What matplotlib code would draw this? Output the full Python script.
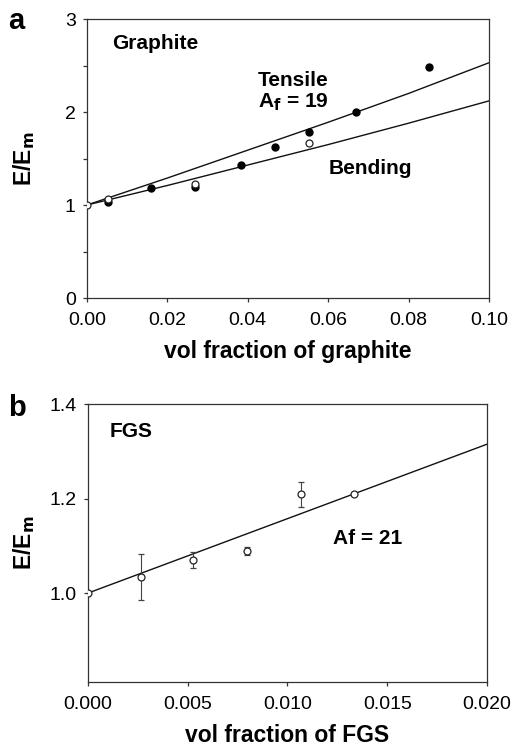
import matplotlib
matplotlib.use("Agg")
import matplotlib.pyplot as plt
from matplotlib.ticker import FixedLocator, FuncFormatter

plt.rcParams['font.family'] = ['Liberation Sans', 'DejaVu Sans']

# graphite: tensile (filled) and bending (open) moduli
tens_x = [0.0052, 0.016, 0.027, 0.0383, 0.0468, 0.0552, 0.0669, 0.0851]
tens_y = [1.035, 1.18, 1.195, 1.43, 1.62, 1.785, 2.0, 2.48]
bend_x = [0.0, 0.0052, 0.027, 0.0552]
bend_y = [1.0, 1.06, 1.225, 1.665]

# fitted curves read at fixed fractions
fit_x = [0.0, 0.02, 0.04, 0.06, 0.08, 0.10]
tens_fit = [1.0, 1.29, 1.59, 1.89, 2.20, 2.53]
bend_fit = [1.0, 1.21, 1.43, 1.65, 1.88, 2.12]

# FGS with error bars
fgs_x = [0.0, 0.00266, 0.00527, 0.00797, 0.01068, 0.01333]
fgs_y = [1.0, 1.034, 1.070, 1.089, 1.209, 1.209]
fgs_err = [0.0, 0.048, 0.016, 0.009, 0.027, 0.0]
fgs_fit_x = [0.0, 0.02]
fgs_fit_y = [1.0, 1.315]

a_xticks = [0.0, 0.02, 0.04, 0.06, 0.08, 0.10]
b_xticks = [0.0, 0.005, 0.010, 0.015, 0.020]

edge = '#333333'
tick_fs = 14
note_fs = 15
label_fs = 16.5

fig = plt.figure(figsize=(5.11, 7.46), dpi=100)
ax1 = fig.add_axes([0.170, 0.6005, 0.787, 0.374])
ax2 = fig.add_axes([0.172, 0.0858, 0.781, 0.3726])


def style(ax):
    for s in ax.spines.values():
        s.set_color(edge)
        s.set_linewidth(0.9)
    ax.tick_params(direction='out', length=3, width=0.9, color=edge,
                   labelsize=tick_fs)
    ax.tick_params(axis='x', pad=7)
    ax.tick_params(axis='y', pad=5)


# panel a
ax1.plot(fit_x, tens_fit, color='#111111', lw=1.0)
ax1.plot(fit_x, bend_fit, color='#111111', lw=1.0)
ax1.plot(tens_x, tens_y, 'o', ms=5, color='black', zorder=3)
ax1.plot(bend_x, bend_y, 'o', ms=5, mfc='white', mec='#222222', mew=0.9,
         zorder=4)
ax1.set_xlim(0, 0.1)
ax1.set_ylim(0, 3)
ax1.xaxis.set_major_locator(FixedLocator(a_xticks))
ax1.xaxis.set_major_formatter(FuncFormatter(lambda v, p: f'{v:.2f}'))
ax1.yaxis.set_major_locator(FixedLocator([0, 0.5, 1, 1.5, 2, 2.5, 3]))
ax1.yaxis.set_major_formatter(
    FuncFormatter(lambda v, p: f'{v:.0f}' if v == int(v) else ''))
style(ax1)
ax1.set_xlabel('vol fraction of graphite', fontsize=label_fs,
               fontweight='bold')
ax1.xaxis.set_label_coords(0.5, -0.152)
ax1.set_ylabel('E/E$_\\mathbf{m}$', fontsize=label_fs, fontweight='bold')
ax1.yaxis.set_label_coords(-0.125, 0.5)
ax1.text(0.0062, 2.74, 'Graphite', fontsize=note_fs, fontweight='bold',
         va='center')
ax1.text(0.0425, 2.34, 'Tensile', fontsize=note_fs, fontweight='bold',
         va='center')
ax1.text(0.0425, 2.11, 'A$_\\mathbf{f}$ = 19', fontsize=note_fs,
         fontweight='bold', va='center')
ax1.text(0.0602, 1.39, 'Bending', fontsize=note_fs, fontweight='bold',
         va='center')

# panel b
ax2.plot(fgs_fit_x, fgs_fit_y, color='#111111', lw=1.0)
ax2.errorbar(fgs_x, fgs_y, yerr=fgs_err, fmt='o', ms=5, mfc='white',
             mec='#222222', mew=0.9, ecolor='#444444', elinewidth=0.8,
             capsize=2, capthick=0.8, zorder=3)
ax2.set_xlim(0, 0.02)
ax2.set_ylim(0.812, 1.4)
ax2.xaxis.set_major_locator(FixedLocator(b_xticks))
ax2.xaxis.set_major_formatter(FuncFormatter(lambda v, p: f'{v:.3f}'))
ax2.yaxis.set_major_locator(FixedLocator([1.0, 1.2, 1.4]))
ax2.yaxis.set_major_formatter(FuncFormatter(lambda v, p: f'{v:.1f}'))
style(ax2)
ax2.set_xlabel('vol fraction of FGS', fontsize=label_fs, fontweight='bold')
ax2.xaxis.set_label_coords(0.5, -0.152)
ax2.set_ylabel('E/E$_\\mathbf{m}$', fontsize=label_fs, fontweight='bold')
ax2.yaxis.set_label_coords(-0.128, 0.5)
ax2.text(0.0011, 1.341, 'FGS', fontsize=note_fs, fontweight='bold',
         va='center')
ax2.text(0.01228, 1.116, 'Af = 21', fontsize=note_fs, fontweight='bold',
         va='center')

fig.text(0.016, 0.972, 'a', fontsize=21, fontweight='bold', va='center')
fig.text(0.016, 0.453, 'b', fontsize=21, fontweight='bold', va='center')

fig.savefig('out.png', dpi=100)
